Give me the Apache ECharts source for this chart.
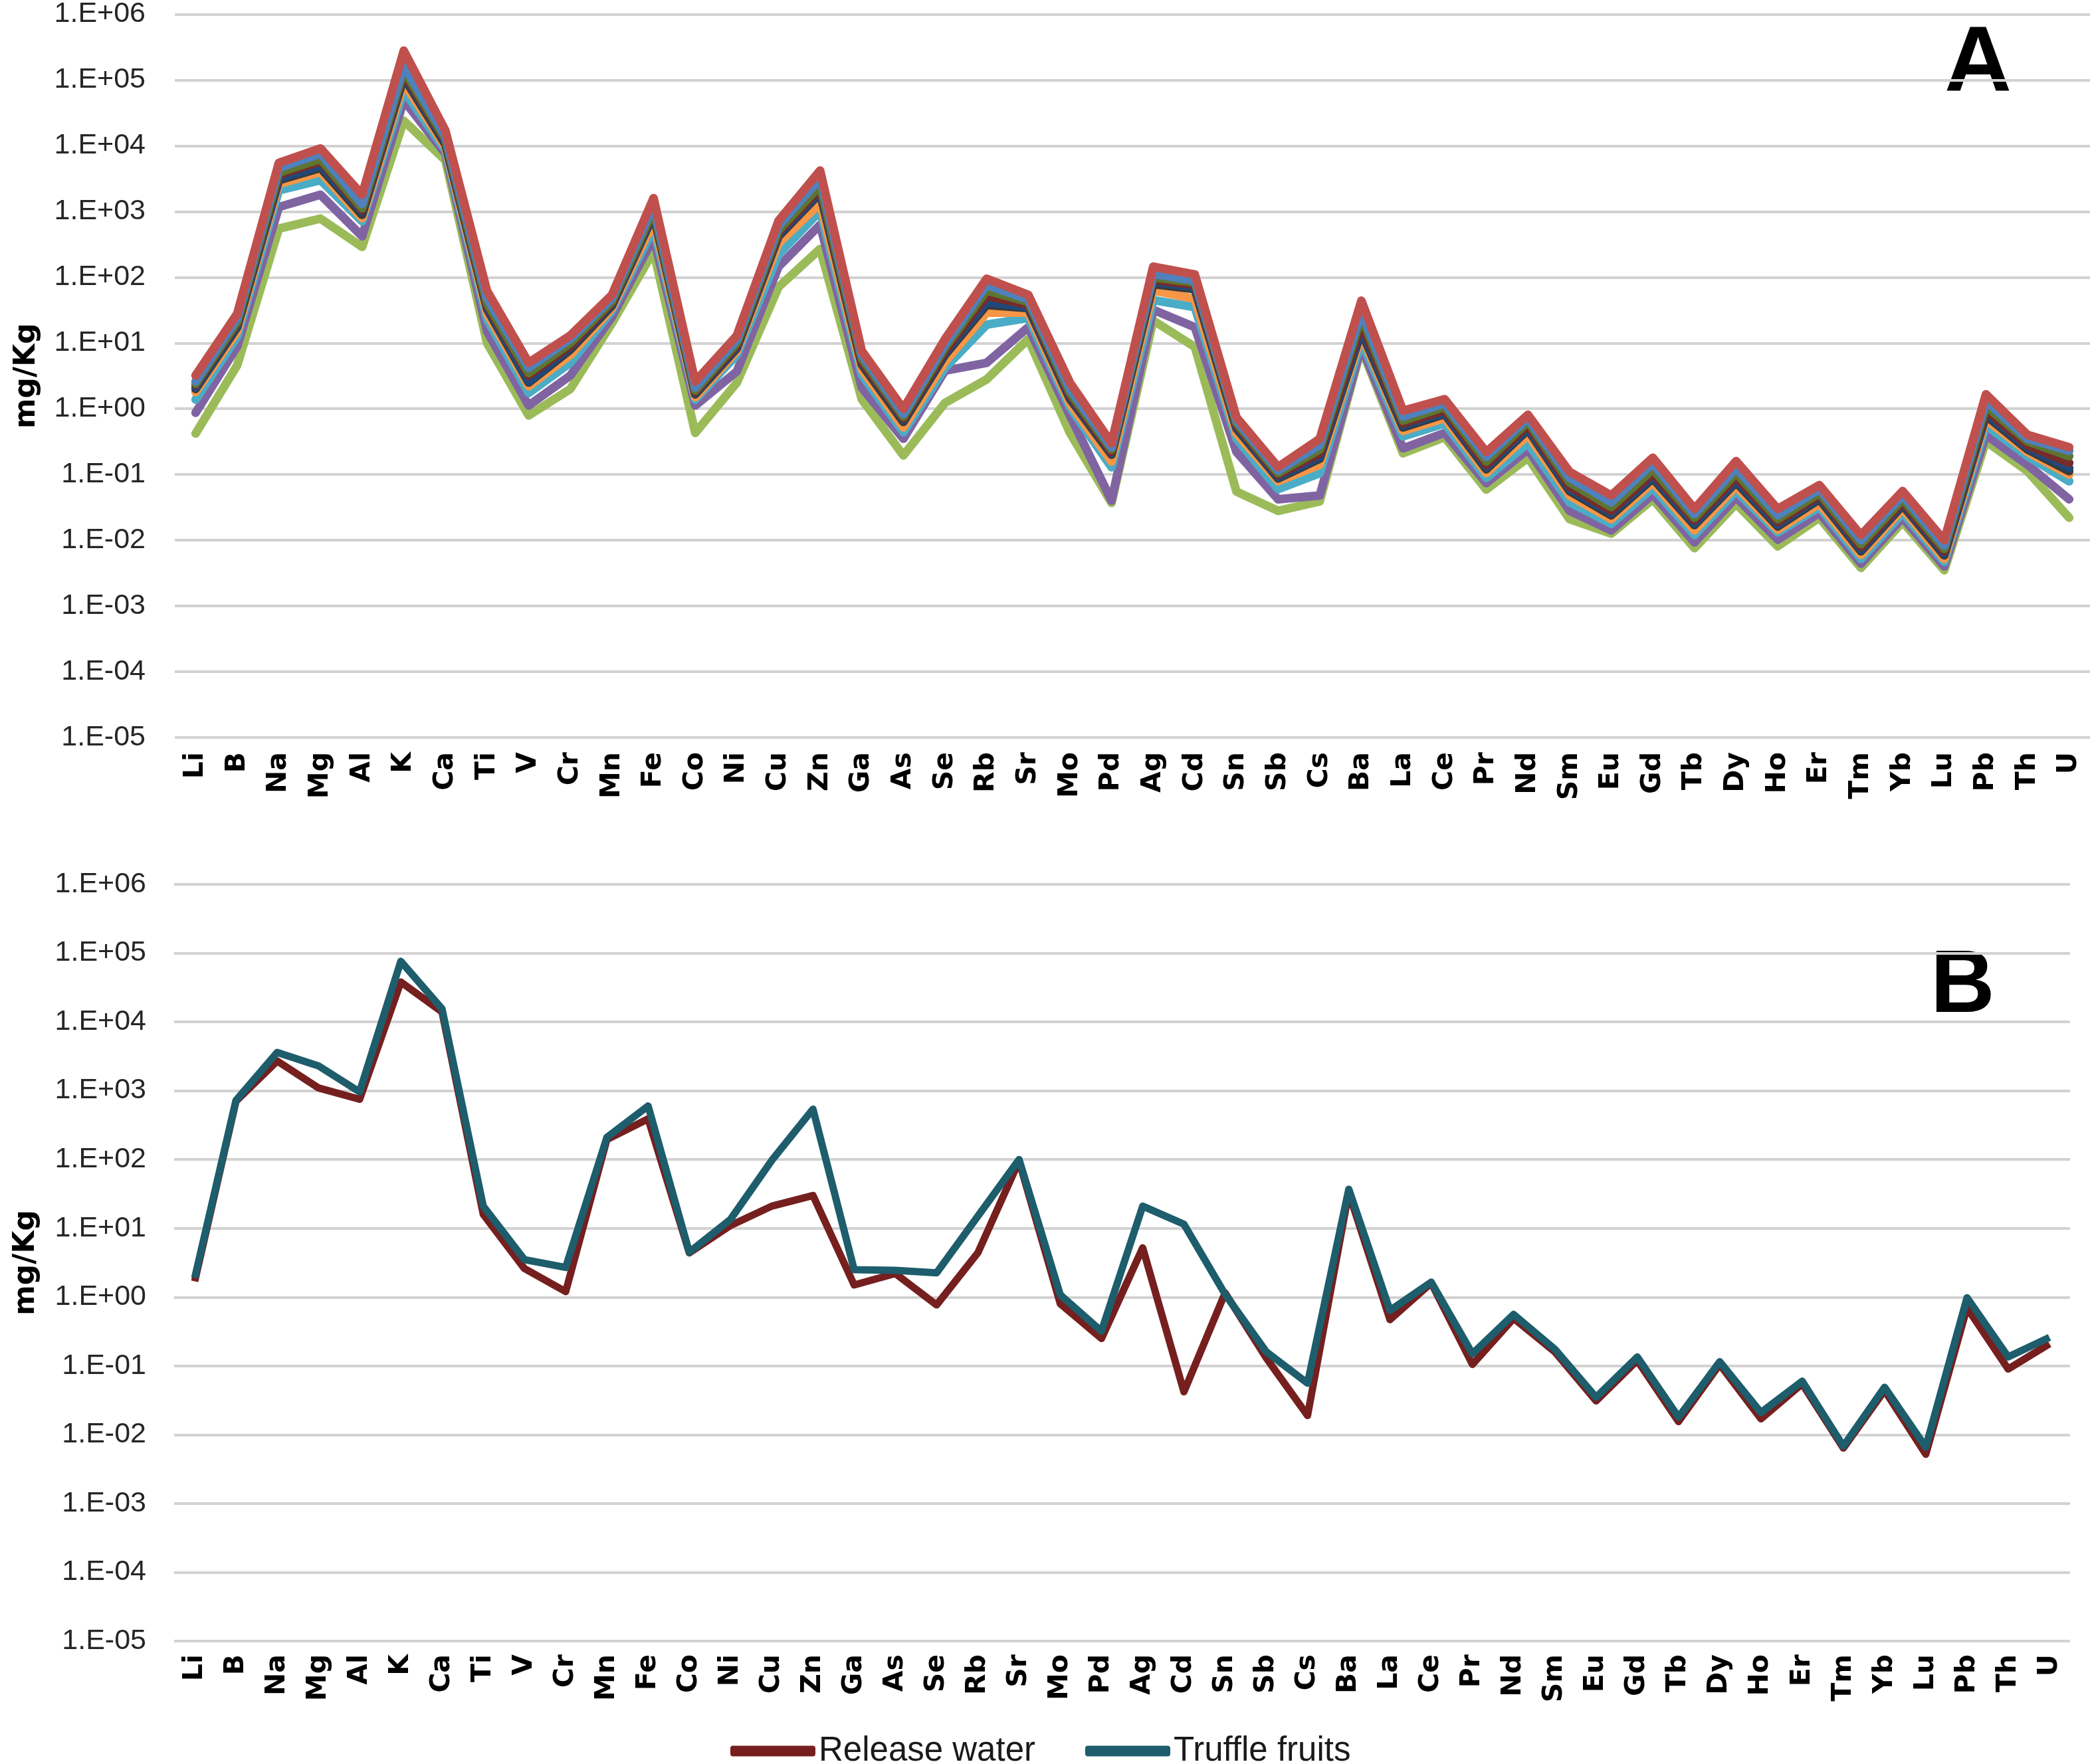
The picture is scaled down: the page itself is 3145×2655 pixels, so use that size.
<!DOCTYPE html>
<html>
<head>
<meta charset="utf-8">
<script src="https://cdn.jsdelivr.net/npm/echarts@6/dist/echarts.min.js"></script>
<style>
html,body{margin:0;padding:0;background:#fff;}
#chart{width:3145px;height:2655px;}
</style>
</head>
<body>
<div id="chart"></div>
<script>
const categories = ['Li','B','Na','Mg','Al','K','Ca','Ti','V','Cr','Mn','Fe','Co','Ni','Cu','Zn','Ga','As','Se','Rb','Sr','Mo','Pd','Ag','Cd','Sn','Sb','Cs','Ba','La','Ce','Pr','Nd','Sm','Eu','Gd','Tb','Dy','Ho','Er','Tm','Yb','Lu','Pb','Th','U'];

const yTickLabels = ['1.E-05','1.E-04','1.E-03','1.E-02','1.E-01','1.E+00','1.E+01','1.E+02','1.E+03','1.E+04','1.E+05','1.E+06'];

// Panel A samples (mg/Kg)
const sampleGreen = [0.42,4.6,550,780,290,24000,6000,10,0.79,2.0,20,250,0.43,2.5,71,270,1.4,0.195,1.23,2.8,11.5,0.43,0.037,22,8.7,0.055,0.028,0.039,8.3,0.21,0.37,0.059,0.18,0.021,0.0126,0.042,0.0076,0.036,0.0081,0.022,0.0038,0.019,0.0035,0.32,0.112,0.022];
const samplePurple = [0.87,8.9,1170,1800,420,49000,7600,15,1.12,3.2,25,400,1.12,3.7,145,630,2.1,0.35,3.8,5.0,17.4,0.79,0.040,32,17.4,0.22,0.042,0.048,8.9,0.25,0.43,0.074,0.24,0.028,0.0141,0.050,0.0093,0.045,0.0102,0.026,0.0044,0.022,0.004,0.40,0.141,0.042];
const sampleAqua = [1.38,12.6,2100,3000,710,69000,8500,23,1.74,5.0,31,560,1.38,6.6,224,1020,3.3,0.44,4.2,19,24,1.05,0.129,45,35,0.35,0.060,0.105,10.7,0.38,0.60,0.089,0.30,0.038,0.0178,0.063,0.012,0.056,0.0132,0.032,0.0052,0.026,0.0047,0.56,0.19,0.079];
const sampleOrange = [1.8,15,2630,4000,790,91000,9500,28,2.2,6.6,34,710,1.5,7.6,330,1350,4.0,0.52,5.2,29,29,1.2,0.158,63,47,0.42,0.079,0.141,13.2,0.46,0.72,0.105,0.40,0.048,0.021,0.076,0.0141,0.066,0.0145,0.036,0.006,0.030,0.0052,0.69,0.22,0.10];
const sampleGray = [2.0,17.4,3000,4600,890,110000,10500,33,2.5,7.9,37,890,1.66,8.3,420,1900,4.7,0.63,6.6,38,34,1.41,0.20,79,66,0.50,0.087,0.174,15,0.52,0.83,0.12,0.48,0.056,0.024,0.087,0.017,0.076,0.0162,0.042,0.0068,0.034,0.0059,0.79,0.24,0.112];
const sampleNavy = [2.1,18.6,3200,5000,1000,117000,11200,35,2.6,8.7,39,930,1.74,8.7,450,2040,5.0,0.68,7.1,42,35,1.48,0.21,85,71,0.52,0.091,0.186,16.6,0.56,0.87,0.129,0.50,0.060,0.026,0.093,0.018,0.081,0.0174,0.045,0.0072,0.036,0.0063,0.85,0.26,0.126];
const sampleDarkRed = [2.3,20,3600,5800,1050,126000,12000,37,3.2,9.1,41,1000,1.8,9.3,480,2240,5.2,0.71,7.6,52,38,1.6,0.22,91,76,0.56,0.098,0.21,20,0.60,0.95,0.14,0.56,0.066,0.028,0.105,0.020,0.091,0.019,0.048,0.0079,0.038,0.0068,0.95,0.28,0.15];
const sampleDarkGreen = [2.4,21,3900,6300,1120,141000,12600,40,3.5,10,43,1070,1.9,10,520,2500,5.8,0.76,8.5,63,42,1.74,0.24,100,83,0.60,0.105,0.24,25,0.66,1.07,0.158,0.63,0.076,0.032,0.12,0.022,0.105,0.021,0.052,0.0087,0.042,0.0074,1.1,0.32,0.19];
const sampleBlue = [2.6,24,4600,7600,1300,166000,14000,48,4.2,11.5,48,1260,2.1,11.2,600,3200,6.6,0.83,9.5,76,46,2.0,0.26,112,89,0.66,0.115,0.28,30,0.76,1.2,0.186,0.71,0.089,0.038,0.148,0.025,0.126,0.024,0.060,0.010,0.048,0.0083,1.32,0.35,0.23];
const sampleRed = [3.2,28,5500,9100,1800,280000,17000,62,5.0,13,54,1600,2.6,13,720,4200,7.6,1.0,11.5,95,54,2.5,0.30,145,110,0.74,0.13,0.35,44,0.93,1.4,0.22,0.81,0.11,0.048,0.18,0.030,0.16,0.030,0.069,0.012,0.056,0.010,1.66,0.40,0.26];

// Panel B (mg/Kg)
const releaseWater = [1.7,700,2700,1100,750,38000,14000,16,2.6,1.2,195,390,4.4,11,21,30,1.5,2.2,0.77,4.4,95,0.8,0.25,5.2,0.042,1.15,0.13,0.019,33,0.47,1.6,0.105,0.49,0.16,0.031,0.12,0.0155,0.105,0.017,0.055,0.0064,0.044,0.0052,0.7,0.09,0.21];
const truffleFruits = [1.9,720,3600,2300,960,76000,15500,21,3.5,2.7,210,600,4.5,13.5,97,540,2.5,2.45,2.25,15,100,1.08,0.32,21,11.5,1.1,0.16,0.056,37,0.64,1.65,0.15,0.56,0.175,0.035,0.135,0.018,0.115,0.021,0.06,0.0068,0.049,0.0066,0.98,0.135,0.26];

const panelASeries = [
  {data: sampleGreen, color: '#9BBB59'},
  {data: samplePurple, color: '#8064A2'},
  {data: sampleAqua, color: '#4BACC6'},
  {data: sampleOrange, color: '#F79646'},
  {data: sampleGray, color: '#3A3A3A'},
  {data: sampleNavy, color: '#1F497D'},
  {data: sampleDarkRed, color: '#772C2A'},
  {data: sampleDarkGreen, color: '#5F7530'},
  {data: sampleBlue, color: '#4F81BD'},
  {data: sampleRed, color: '#C0504D'}
];

function fmtY(v){
  const e = Math.round(Math.log10(v));
  return yTickLabels[e + 5] || '';
}

const yAxisCommon = {
  type: 'log', logBase: 10, min: 1e-5, max: 1e6, interval: 1,
  axisLine: {show: false}, axisTick: {show: false},
  splitLine: {show: true, lineStyle: {color: '#D2D2D2', width: 4}},
  axisLabel: {formatter: fmtY, fontFamily: 'Liberation Sans', fontSize: 43, color: '#262626'},
  name: 'mg/Kg', nameLocation: 'middle', nameRotate: 90,
  nameTextStyle: {fontFamily: 'DejaVu Sans', fontWeight: 'bold', fontSize: 44, color: '#000'}
};
const xAxisCommon = {
  type: 'category', data: categories, boundaryGap: true,
  axisLine: {show: false}, axisTick: {show: false},
  axisLabel: {rotate: 90, interval: 0, fontFamily: 'DejaVu Sans', fontWeight: 'bold', fontSize: 41, color: '#000'}
};

const series = [];
panelASeries.forEach((s, i) => {
  series.push({
    type: 'line', xAxisIndex: 0, yAxisIndex: 0, data: s.data,
    showSymbol: false, symbol: 'none', silent: true,
    lineStyle: {color: s.color, width: 13, join: 'round', cap: 'round'},
    itemStyle: {color: s.color}, z: 2 + i
  });
});
series.push({
  name: 'Release water', type: 'line', xAxisIndex: 1, yAxisIndex: 1, data: releaseWater,
  showSymbol: false, symbol: 'none',
  lineStyle: {color: '#761F1F', width: 11, join: 'round'}, itemStyle: {color: '#761F1F'}, z: 3
});
series.push({
  name: 'Truffle fruits', type: 'line', xAxisIndex: 1, yAxisIndex: 1, data: truffleFruits,
  showSymbol: false, symbol: 'none',
  lineStyle: {color: '#1D5D6C', width: 11, join: 'round'}, itemStyle: {color: '#1D5D6C'}, z: 4
});

const chart = echarts.init(document.getElementById('chart'), null, {renderer: 'canvas'});
chart.setOption({
  animation: false,
  backgroundColor: '#fff',
  grid: [
    {left: 263, right: 0, top: 19, height: 1091},
    {left: 262, right: 30, top: 1331, height: 1139}
  ],
  xAxis: [
    Object.assign({gridIndex: 0}, xAxisCommon, {axisLabel: Object.assign({}, xAxisCommon.axisLabel, {margin: 22})}),
    Object.assign({gridIndex: 1}, xAxisCommon, {axisLabel: Object.assign({}, xAxisCommon.axisLabel, {margin: 20})})
  ],
  yAxis: [
    Object.assign({gridIndex: 0}, yAxisCommon, {nameGap: 200, axisLabel: Object.assign({}, yAxisCommon.axisLabel, {margin: 44})}),
    Object.assign({gridIndex: 1}, yAxisCommon, {nameGap: 200, axisLabel: Object.assign({}, yAxisCommon.axisLabel, {margin: 42})})
  ],
  legend: {
    data: ['Release water', 'Truffle fruits'],
    left: 1099, top: 2610, padding: 0,
    icon: 'roundRect', itemWidth: 128, itemHeight: 16, itemGap: 75,
    textStyle: {fontFamily: 'Liberation Sans', fontSize: 51, color: '#1a1a1a'}
  },
  graphic: [
    {type: 'text', left: 2926, top: 28, style: {text: 'A', font: 'bold 140px "Liberation Sans"', fill: '#000'}},
    {type: 'text', left: 2905, top: 1419, style: {text: 'B', font: 'bold 134px "Liberation Sans"', fill: '#000'}}
  ],
  series: series
});
</script>
</body>
</html>
